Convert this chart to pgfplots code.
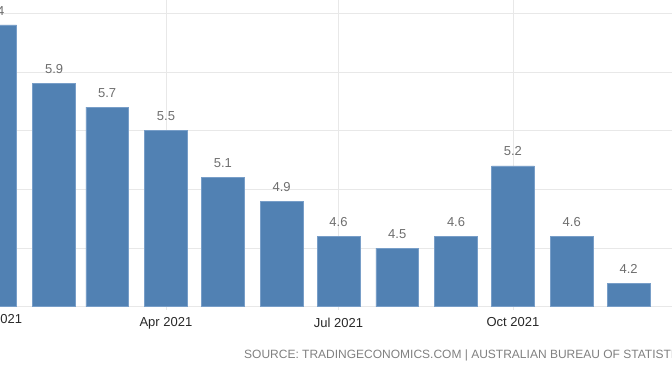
\documentclass[border=0pt]{standalone}
\usepackage{fontspec}
\setmainfont{Liberation Sans}
\usepackage{pgfplots}
\pgfplotsset{compat=1.18}
\definecolor{barblue}{RGB}{81,129,179}
\definecolor{baredge}{RGB}{120,158,200}
\definecolor{gridgray}{RGB}{232,232,232}
\definecolor{labgray}{RGB}{110,110,110}
\definecolor{ticktext}{RGB}{40,40,40}
\definecolor{srcgray}{RGB}{128,128,128}
\begin{document}
\begin{tikzpicture}
\begin{axis}[
  at={(0pt,65.3pt)}, anchor=south west,
  width=672pt, height=306.7pt, scale only axis,
  xmin=2.48, xmax=356.9, ymin=4, ymax=6.613,
  ybar, bar width=42.7pt,
  axis line style={draw=none},
  ytick={4,4.5,5,5.5,6,6.5}, yticklabels={},
  xtick={90,181,273}, xticklabels={Apr 2021, Jul 2021, Oct 2021},
  tick align=center, major tick length=7pt,
  xtick style={draw=gridgray, line width=0.8pt},
  ytick style={draw=none},
  grid=major, grid style={draw=gridgray, line width=0.8pt},
  xticklabel style={anchor=north, inner sep=0pt, yshift=-7.3pt,
     font=\fontsize{13}{15}\selectfont, text=ticktext},
  /pgf/number format/.cd, fixed, precision=1, fixed zerofill, assume math mode=true,
]
\addplot[fill=barblue, draw=baredge, line width=0.6pt,
  nodes near coords,
  every node near coord/.append style={anchor=south, inner sep=0pt, yshift=9.5pt,
     font=\fontsize{13}{15}\selectfont, text=labgray}]
  coordinates {(0,6.4) (31,5.9) (59,5.7) (90,5.5) (120,5.1) (151,4.9)
               (181,4.6) (212,4.5) (243,4.6) (273,5.2) (304,4.6) (334,4.2)};
\coordinate (janlab) at (axis cs:0,4);
\coordinate (janval) at (axis cs:0,6.4);
\end{axis}
\node[anchor=north, inner sep=0pt, yshift=-7.3pt,
      font=\fontsize{13}{15}\selectfont, text=ticktext] at (janlab) {Jan 2021};
\node[anchor=south, inner sep=0pt, yshift=9.5pt,
      font=\fontsize{13}{15}\selectfont, text=labgray] at (janval) {6.4};
\node[anchor=base west, inner sep=0pt, font=\fontsize{12}{14}\selectfont, text=srcgray]
  at (244pt,13pt) {SOURCE: TRADINGECONOMICS.COM | AUSTRALIAN BUREAU OF STATISTICS};
\pgfresetboundingbox
\useasboundingbox (0,0) rectangle (672pt,372pt);
\end{tikzpicture}
\end{document}
